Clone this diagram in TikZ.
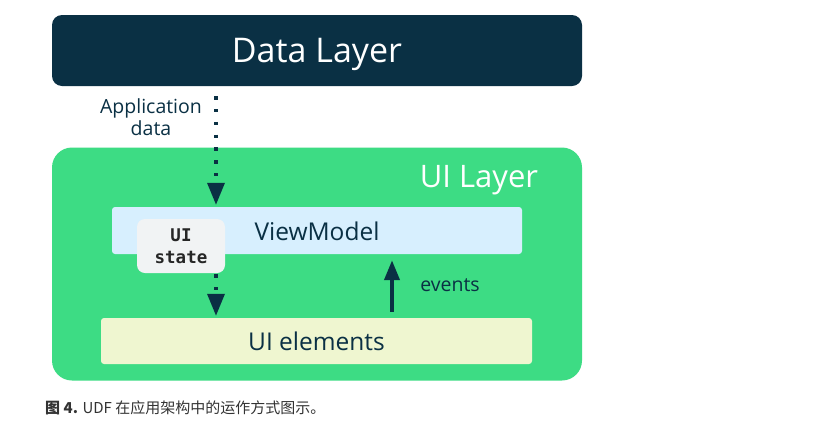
\documentclass[tikz,border=0pt]{standalone}
\usepackage{fontspec}
\setmainfont{Open Sans}
\newfontfamily\monob{DejaVu Sans Mono}
\newfontfamily\cjk{Noto Sans CJK SC}
\usetikzlibrary{arrows.meta}
\definecolor{navy}{HTML}{0A3044}
\definecolor{andgreen}{HTML}{3DDC84}
\definecolor{vmblue}{HTML}{D7EFFE}
\definecolor{ueyellow}{HTML}{EFF6D0}
\definecolor{stgray}{HTML}{F1F3F4}
\definecolor{captext}{HTML}{333333}
\tikzset{
  layerbox/.style={fill=#1, draw=none, inner sep=0pt},
  flatbox/.style={fill=#1, draw=none, rounded corners=3pt, inner sep=0pt},
  dotarrow/.style={draw=navy, line width=3.4pt, dash pattern=on 3.4pt off 9.4pt,
    -{Triangle[width=17pt,length=22pt]}},
  solidarrow/.style={draw=navy, line width=4pt, -{Triangle[width=15pt,length=20pt]}},
  lbl/.style={text=navy, inner sep=0pt, align=center},
}
\begin{document}
\begin{tikzpicture}[x=1pt,y=-1pt]
\useasboundingbox (0,0) rectangle (836,424);
\fill[white] (0,0) rectangle (836,424);
% Data layer
\node[layerbox=navy, rounded corners=10pt, minimum width=530pt, minimum height=71pt] (dl) at (317,50.5) {};
\node[text=white, inner sep=0pt, font=\fontsize{34}{40}\selectfont] (dlt) at (317,54) {Data Layer};
% UI layer
\node[layerbox=andgreen, rounded corners=20pt, minimum width=530pt, minimum height=233pt] (ul) at (317,264) {};
\node[text=white, inner sep=0pt, font=\fontsize{31}{36}\selectfont] (ult) at (479,180) {UI Layer};
% ViewModel
\node[flatbox=vmblue, minimum width=410pt, minimum height=47pt] (vm) at (317,230.5) {};
\node[lbl, font=\fontsize{24.5}{28}\selectfont] (vmt) at (317,231) {ViewModel};
% UI state
\node[fill=stgray, draw=none, rounded corners=8pt, minimum width=88pt, minimum height=54pt, inner sep=0pt] (st) at (181,246) {};
\node[lbl, text=black!85, font=\monob\bfseries\fontsize{17.5}{22}\selectfont] (stt) at (181,246) {UI\\state};
% UI elements
\node[flatbox=ueyellow, minimum width=431pt, minimum height=46pt] (ue) at (316.5,341) {};
\node[lbl, font=\fontsize{24.5}{28}\selectfont] (uet) at (316.5,341) {UI elements};
% labels
\node[lbl, font=\fontsize{19.5}{21.5}\selectfont] (app) at (151,117) {Application\\data};
\node[lbl, font=\fontsize{19.5}{22}\selectfont] (ev) at (450,285) {events};
% arrows
\draw[dotarrow] ([xshift=-101pt,yshift=-10pt]dl.south) -- ([xshift=-101pt,yshift=2pt]vm.north);
\draw[dotarrow] ([xshift=35pt,yshift=-1pt]st.south) -- ([xshift=-100.5pt,yshift=2pt]ue.north);
\draw[solidarrow] ([xshift=75.5pt,yshift=6pt]ue.north) -- ([xshift=75pt,yshift=-6pt]vm.south);
% caption
\node[anchor=west, inner sep=0pt, text=captext, font=\cjk\fontsize{15}{17}\selectfont] (cap) at (45,408) {\textbf{图 4.} UDF 在应用架构中的运作方式图示。};
\end{tikzpicture}
\end{document}
